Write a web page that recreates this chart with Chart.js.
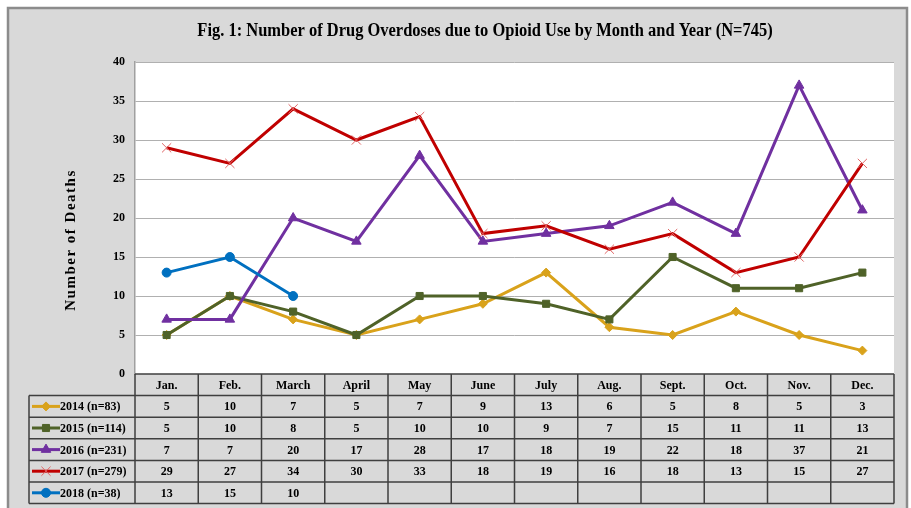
<!DOCTYPE html>
<html>
<head>
<meta charset="utf-8">
<script src="https://cdn.jsdelivr.net/npm/chart.js@4/dist/chart.umd.min.js"></script>
<style>
  html, body { margin: 0; padding: 0; background: #fff; }
  #wrap { width: 911px; height: 508px; }
</style>
</head>
<body>
<div id="wrap"><canvas id="chart" width="911" height="508"></canvas></div>
<script>
// Data
const months = ['Jan.', 'Feb.', 'March', 'April', 'May', 'June', 'July', 'Aug.', 'Sept.', 'Oct.', 'Nov.', 'Dec.'];
const y2014 = [5, 10, 7, 5, 7, 9, 13, 6, 5, 8, 5, 3];
const y2015 = [5, 10, 8, 5, 10, 10, 9, 7, 15, 11, 11, 13];
const y2016 = [7, 7, 20, 17, 28, 17, 18, 19, 22, 18, 37, 21];
const y2017 = [29, 27, 34, 30, 33, 18, 19, 16, 18, 13, 15, 27];
const y2018 = [13, 15, 10, null, null, null, null, null, null, null, null, null];
const seriesLabels = ['2014 (n=83)', '2015 (n=114)', '2016 (n=231)', '2017 (n=279)', '2018 (n=38)'];
const yTicks = [0, 5, 10, 15, 20, 25, 30, 35, 40];

const titleText = 'Fig. 1: Number of Drug Overdoses due to Opioid Use by Month and Year (N=745)';
const yTitle = 'Number of Deaths';

const SERIF = '"Liberation Serif", "DejaVu Serif", serif';
const BG = '#d9d9d9';

// Colors / markers per series
const styles = [
  { color: '#d9a21b', point: 'rectRot', radius: 4.5, pointBorder: '#d9a21b' },
  { color: '#4f6228', point: 'rect', radius: 5, pointBorder: '#4f6228' },
  { color: '#7030a0', point: 'triangle', radius: 5.5, pointBorder: '#7030a0' },
  { color: '#c00000', point: 'crossRot', radius: 6.5, pointBorder: '#e06666' },
  { color: '#0070c0', point: 'circle', radius: 4.5, pointBorder: '#0070c0' }
];

const allSeries = [y2014, y2015, y2016, y2017, y2018];

const datasets = allSeries.map((data, i) => ({
  label: seriesLabels[i],
  data,
  borderColor: styles[i].color,
  backgroundColor: styles[i].color,
  borderWidth: 3,
  pointStyle: styles[i].point,
  pointRadius: styles[i].radius,
  pointBorderColor: styles[i].pointBorder,
  pointBackgroundColor: styles[i].color,
  pointBorderWidth: 1,
  tension: 0,
  spanGaps: false,
  order: allSeries.length - i
}));

// Frame, background, title and y-axis label
const framePlugin = {
  id: 'frame',
  beforeDraw(chart) {
    const { ctx, chartArea } = chart;
    ctx.save();
    ctx.fillStyle = '#fff';
    ctx.fillRect(0, 0, chart.width, chart.height);
    ctx.fillStyle = BG;
    ctx.fillRect(8, 8, 899, 520);
    ctx.strokeStyle = '#8c8c8c';
    ctx.lineWidth = 2.5;
    ctx.strokeRect(8, 8, 899, 520);
    // plot area
    ctx.fillStyle = '#fff';
    ctx.fillRect(chartArea.left, chartArea.top, chartArea.right - chartArea.left, chartArea.bottom - chartArea.top);
    // title (narrow, like the original)
    ctx.fillStyle = '#000';
    ctx.font = 'bold 18px ' + SERIF;
    ctx.textAlign = 'center';
    ctx.textBaseline = 'alphabetic';
    ctx.save();
    ctx.translate(485, 36);
    ctx.scale(0.915, 1);
    ctx.fillText(titleText, 0, 0);
    ctx.restore();
    // y title
    ctx.translate(75, 240);
    ctx.rotate(-Math.PI / 2);
    ctx.font = 'bold 15px ' + SERIF;
    ctx.letterSpacing = '1.5px';
    ctx.fillText(yTitle, 0, 0);
    ctx.restore();
  }
};

// Data table under the plot
const tablePlugin = {
  id: 'dataTable',
  afterDraw(chart) {
    const { ctx, chartArea } = chart;
    const xs = chart.scales.x;
    const colW = (chartArea.right - chartArea.left) / months.length;
    const top = chartArea.bottom;
    const rowH = 21.6;
    const legL = 29;
    const left = chartArea.left;
    const right = chartArea.right;
    const nRows = allSeries.length;

    ctx.save();
    ctx.fillStyle = BG;
    ctx.fillRect(legL, top + rowH, right - legL, rowH * nRows);
    ctx.fillRect(left, top, right - left, rowH);

    ctx.strokeStyle = '#3f3f3f';
    ctx.lineWidth = 1.5;
    // horizontal lines
    ctx.beginPath();
    ctx.moveTo(left, top);
    ctx.lineTo(right, top);
    for (let r = 1; r <= nRows + 1; r++) {
      const y = top + r * rowH;
      ctx.moveTo(legL, y);
      ctx.lineTo(right, y);
    }
    // vertical lines
    ctx.moveTo(legL, top + rowH);
    ctx.lineTo(legL, top + rowH * (nRows + 1));
    for (let c = 0; c <= months.length; c++) {
      const x = left + c * colW;
      ctx.moveTo(x, top);
      ctx.lineTo(x, top + rowH * (nRows + 1));
    }
    ctx.stroke();

    ctx.fillStyle = '#000';
    ctx.font = 'bold 12px ' + SERIF;
    ctx.textAlign = 'center';
    ctx.textBaseline = 'middle';
    months.forEach((m, i) => {
      ctx.fillText(m, xs.getPixelForValue(i), top + rowH / 2 + 1);
    });
    allSeries.forEach((data, r) => {
      const yc = top + rowH * (r + 1.5) + 1;
      data.forEach((v, i) => {
        if (v !== null) ctx.fillText(String(v), xs.getPixelForValue(i), yc);
      });
    });

    // legend keys
    chart.data.datasets.forEach((ds, r) => {
      const yc = top + rowH * (r + 1.5);
      ctx.strokeStyle = ds.borderColor;
      ctx.lineWidth = 3;
      ctx.beginPath();
      ctx.moveTo(32, yc);
      ctx.lineTo(60, yc);
      ctx.stroke();
      ctx.fillStyle = ds.pointBackgroundColor;
      ctx.strokeStyle = ds.pointBorderColor;
      ctx.lineWidth = 1;
      Chart.helpers.drawPoint(ctx, {
        pointStyle: ds.pointStyle,
        radius: ds.pointRadius,
        rotation: 0,
        borderWidth: 1
      }, 46, yc);
      ctx.fillStyle = '#000';
      ctx.textAlign = 'left';
      ctx.fillText(ds.label, 60, yc + 1);
    });
    ctx.restore();
  }
};

new Chart(document.getElementById('chart'), {
  type: 'line',
  data: { labels: months, datasets },
  options: {
    responsive: false,
    animation: false,
    devicePixelRatio: 1,
    layout: { padding: { top: 62, right: 17, bottom: 134, left: 0 } },
    scales: {
      x: {
        type: 'category',
        offset: true,
        display: false
      },
      y: {
        min: 0,
        max: 40,
        afterFit: (scale) => { scale.width = 135; },
        afterBuildTicks: (scale) => { scale.ticks = yTicks.map(v => ({ value: v })); },
        grid: { color: '#b0b0b0', lineWidth: 1, drawTicks: false },
        border: { color: '#a0a0a0', width: 1.5 },
        ticks: {
          padding: 10,
          color: '#000',
          font: { family: SERIF, size: 12, weight: 'bold' }
        }
      }
    },
    plugins: {
      legend: { display: false },
      title: { display: false },
      tooltip: { enabled: false }
    }
  },
  plugins: [framePlugin, tablePlugin]
});
</script>
</body>
</html>
